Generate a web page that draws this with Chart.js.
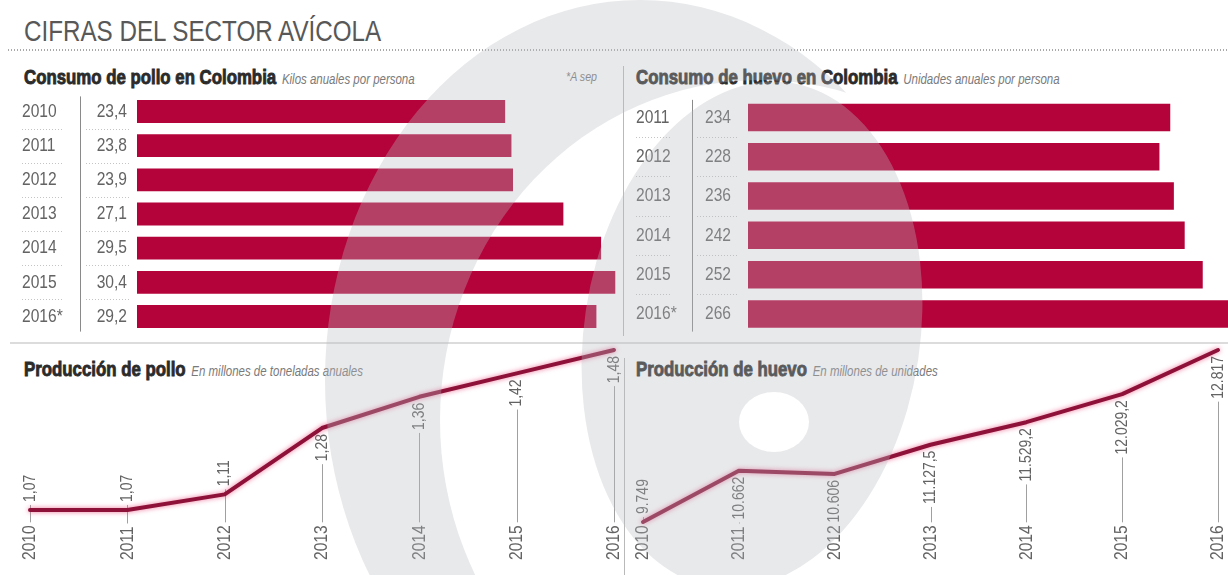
<!DOCTYPE html>
<html lang="es">
<head>
<meta charset="utf-8">
<title>Cifras del sector avícola</title>
<script src="https://cdn.jsdelivr.net/npm/chart.js@4.4.1/dist/chart.umd.min.js"></script>
<style>
html, body { margin: 0; padding: 0; background: #fff; }
#page { position: relative; width: 1228px; height: 575px; overflow: hidden;
        font-family: "Liberation Sans", Arial, sans-serif; color: #555; }
.abs { position: absolute; }
/* condensed look: Liberation Sans squeezed horizontally */
.narrow { transform: scaleX(0.82); transform-origin: 0 0; white-space: nowrap; }
#titulo { left: 24px; top: 15px; font-size: 29.5px; line-height: 32px; color: #585858; }
#puntos { left: 8px; top: 49px; width: 1220px; height: 2px;
          background-image: linear-gradient(to right, #a9a9a9 50%, transparent 50%); background-size: 3px 2px; }
.cab { line-height: 20px; }
.cab b { font-size: 20.5px; color: #2b2b2b; -webkit-text-stroke: 0.9px #2b2b2b; }
.cab i { font-size: 14px; color: #7a7a7a; margin-left: 7px; }
#nota { left: 566px; top: 67px; font-size: 13px; line-height: 20px; font-style: italic; color: #777; }
.sep-v { width: 1px; background: #b9b9b9; }
#sep-h { left: 10px; top: 342px; width: 1218px; height: 2px; background: #dcdcdc; }
canvas { display: block; }
#marca { left: 0; top: 0; pointer-events: none; }
</style>
</head>
<body>
<div id="page">
  <div id="titulo" class="abs narrow">CIFRAS DEL SECTOR AVÍCOLA</div>
  <div id="puntos" class="abs"></div>

  <div class="abs cab narrow" style="left:24px; top:67px;"><b>Consumo de pollo en Colombia</b><i>Kilos anuales por persona</i></div>
  <div id="nota" class="abs narrow">*A sep</div>
  <div class="abs cab narrow" style="left:636px; top:67px;"><b>Consumo de huevo en Colombia</b><i>Unidades anuales por persona</i></div>
  <div class="abs sep-v" style="left:623px; top:66px; height:270px;"></div>

  <div id="sep-h" class="abs"></div>
  <div class="abs cab narrow" style="left:24px; top:359px;"><b>Producción de pollo</b><i>En millones de toneladas anuales</i></div>
  <div class="abs cab narrow" style="left:636px; top:359px;"><b>Producción de huevo</b><i>En millones de unidades</i></div>
  <div class="abs sep-v" style="left:624px; top:358px; height:217px;"></div>

  <div class="abs" style="left:0; top:90px;"><canvas id="consumo-pollo" width="622" height="250"></canvas></div>
  <div class="abs" style="left:622px; top:90px;"><canvas id="consumo-huevo" width="606" height="250"></canvas></div>
  <div class="abs" style="left:0; top:343px;"><canvas id="produccion-pollo" width="622" height="232"></canvas></div>
  <div class="abs" style="left:622px; top:343px;"><canvas id="produccion-huevo" width="606" height="232"></canvas></div>

  <canvas id="marca" class="abs" width="1228" height="575"></canvas>
</div>

<script>
// Datos
const POLLO_YEARS = ['2010', '2011', '2012', '2013', '2014', '2015', '2016*'];
const POLLO_CONSUMO = [23.4, 23.8, 23.9, 27.1, 29.5, 30.4, 29.2];

const HUEVO_YEARS = ['2011', '2012', '2013', '2014', '2015', '2016*'];
const HUEVO_CONSUMO = [234, 228, 236, 242, 252, 266];

const PROD_YEARS = ['2010', '2011', '2012', '2013', '2014', '2015', '2016'];
const POLLO_PRODUCCION = [1.07, 1.07, 1.11, 1.28, 1.36, 1.42, 1.48];
const HUEVO_PRODUCCION = [9749, 10662, 10606, 11127.5, 11529.2, 12029.2, 12817];

const BAR_RED = '#b4033a';
const LINE_RED = '#8e1139';
const TEXT_GRAY = '#636363';
const FONT = '"Liberation Sans", Arial, sans-serif';
const SQUEEZE = 0.82;

// 1234.5 -> "1.234,5"
function fmt_es(v, dec){
    let parts = v.toFixed(dec).split('.');
    let ent = parts[0].replace(/\B(?=(\d{3})+(?!\d))/g, '.');
    return parts.length > 1 ? ent + ',' + parts[1] : ent;
}

// text squeezed horizontally, optionally turned to read bottom-up
function narrow_text(ctx, text, x, y, align, up){
    ctx.save();
    ctx.translate(x, y);
    if (up) ctx.rotate(-Math.PI / 2);
    ctx.scale(SQUEEZE, 1);
    ctx.textAlign = align;
    ctx.fillText(text, 0, 0);
    ctx.restore();
}

function narrow_width(ctx, text){
    return ctx.measureText(text).width * SQUEEZE;
}

// year / value columns to the left of the bars
function make_row_labels(cfg){
    return {
        id: 'rowLabels',
        afterDraw(chart){
            const ctx = chart.ctx;
            const y = chart.scales.y;
            const values = chart.data.datasets[0].data;
            const n = values.length;
            ctx.save();
            ctx.font = '19px ' + FONT;
            ctx.fillStyle = TEXT_GRAY;
            ctx.textBaseline = 'middle';
            for (let i = 0; i < n; i++){
                let py = y.getPixelForValue(i);
                narrow_text(ctx, chart.data.labels[i], cfg.yearX, py, 'left');
                narrow_text(ctx, cfg.format(values[i]), cfg.valueX, py, cfg.valueAlign);
                if (i < n - 1){
                    let sy = Math.round((py + y.getPixelForValue(i + 1)) / 2) + 0.5;
                    ctx.save();
                    ctx.strokeStyle = '#c4c4c4';
                    ctx.lineWidth = 1;
                    ctx.setLineDash([1, 2]);
                    ctx.beginPath();
                    ctx.moveTo(cfg.sep1[0], sy); ctx.lineTo(cfg.sep1[1], sy);
                    ctx.moveTo(cfg.sep2[0], sy); ctx.lineTo(cfg.sep2[1], sy);
                    ctx.stroke();
                    ctx.restore();
                }
            }
            ctx.strokeStyle = '#8a8a8a';
            ctx.lineWidth = 1;
            ctx.beginPath();
            ctx.moveTo(cfg.lineX + 0.5, chart.chartArea.top + 2);
            ctx.lineTo(cfg.lineX + 0.5, chart.chartArea.bottom - 2);
            ctx.stroke();
            ctx.restore();
        }
    };
}

// rotated year at the foot, rotated value next to each point, thin leader between them
function make_point_labels(format, sides){
    return {
        id: 'pointLabels',
        beforeDatasetsDraw(chart){
            const ctx = chart.ctx;
            const meta = chart.getDatasetMeta(0);
            const values = chart.data.datasets[0].data;
            const year_bottom = chart.chartArea.bottom + 20;
            ctx.save();
            ctx.fillStyle = TEXT_GRAY;
            ctx.textBaseline = 'middle';
            meta.data.forEach((pt, i) => {
                ctx.font = '19px ' + FONT;
                let year = chart.data.labels[i];
                let yw = narrow_width(ctx, year);
                narrow_text(ctx, year, pt.x, year_bottom, 'left', true);

                ctx.font = '17px ' + FONT;
                let txt = format(values[i]);
                let w = narrow_width(ctx, txt);
                let lab_bottom = sides[i] == 'up' ? pt.y - 8 : pt.y + 6 + w;
                narrow_text(ctx, txt, pt.x, lab_bottom, 'left', true);

                let top = lab_bottom + 3;
                let bottom = year_bottom - yw - 3;
                if (bottom - top > 1){
                    ctx.save();
                    ctx.strokeStyle = '#a0a0a0';
                    ctx.lineWidth = 1;
                    ctx.beginPath();
                    ctx.moveTo(Math.round(pt.x) + 0.5, top);
                    ctx.lineTo(Math.round(pt.x) + 0.5, bottom);
                    ctx.stroke();
                    ctx.restore();
                }
            });
            ctx.restore();
        }
    };
}

// pink halo under the line
const line_glow = {
    id: 'lineGlow',
    beforeDatasetDraw(chart){
        chart.ctx.save();
        chart.ctx.shadowColor = 'rgba(232, 70, 120, 0.75)';
        chart.ctx.shadowBlur = 5;
    },
    afterDatasetDraw(chart){
        chart.ctx.restore();
    }
};

function bar_chart(id, labels, values, max, thickness, padding, labels_cfg){
    new Chart(document.getElementById(id), {
        type: 'bar',
        data: {
            labels: labels,
            datasets: [{
                data: values,
                backgroundColor: BAR_RED,
                borderWidth: 0,
                barPercentage: thickness,
                categoryPercentage: 1
            }]
        },
        options: {
            indexAxis: 'y',
            responsive: false,
            animation: false,
            layout: { padding: padding },
            scales: {
                x: { display: false, min: 0, max: max },
                y: { display: false }
            },
            plugins: { legend: { display: false }, tooltip: { enabled: false } }
        },
        plugins: [make_row_labels(labels_cfg)]
    });
}

function line_chart(id, values, min, max, padding, format, sides){
    new Chart(document.getElementById(id), {
        type: 'line',
        data: {
            labels: PROD_YEARS,
            datasets: [{
                data: values,
                borderColor: LINE_RED,
                borderWidth: 4,
                pointRadius: 0,
                tension: 0,
                clip: false,
                borderJoinStyle: 'round',
                borderCapStyle: 'round'
            }]
        },
        options: {
            responsive: false,
            animation: false,
            layout: { padding: padding },
            scales: {
                x: { display: false, offset: false },
                y: { display: false, min: min, max: max }
            },
            plugins: { legend: { display: false }, tooltip: { enabled: false } }
        },
        plugins: [make_point_labels(format, sides), line_glow]
    });
}

bar_chart('consumo-pollo', POLLO_YEARS, POLLO_CONSUMO, 30.7, 0.67,
    { left: 137, right: 2, top: 4.4, bottom: 6.4 },
    { yearX: 22, valueX: 127, valueAlign: 'right', lineX: 80, sep1: [22, 64], sep2: [86, 129],
      format: v => fmt_es(v, 1) });

bar_chart('consumo-huevo', HUEVO_YEARS, HUEVO_CONSUMO, 266, 0.7,
    { left: 126, right: 0, top: 7.85, bottom: 6.4 },
    { yearX: 14, valueX: 83, valueAlign: 'left', lineX: 70, sep1: [14, 50], sep2: [75, 115],
      format: v => fmt_es(v, 0) });

line_chart('produccion-pollo', POLLO_PRODUCCION, 0.993, 1.48,
    { left: 30, right: 8, top: 7, bottom: 35 },
    v => fmt_es(v, 2),
    ['up', 'up', 'up', 'down', 'down', 'down', 'down']);

line_chart('produccion-huevo', HUEVO_PRODUCCION, 9428, 12817,
    { left: 21, right: 10, top: 7, bottom: 35 },
    v => fmt_es(v, Number.isInteger(v) ? 0 : 1),
    ['up', 'down', 'down', 'down', 'down', 'down', 'down']);

// faint logo watermark laid over the page
function draw_watermark(){
    const off = document.createElement('canvas');
    off.width = 1228; off.height = 575;
    const o = off.getContext('2d');
    o.fillStyle = 'rgb(186, 188, 194)';
    o.beginPath(); o.ellipse(640, 380, 315, 380, 0, 0, 2 * Math.PI); o.fill();
    o.globalCompositeOperation = 'destination-out';
    o.beginPath(); o.ellipse(760, 420, 320, 340, 0, 0, 2 * Math.PI); o.fill();
    o.globalCompositeOperation = 'source-over';
    o.beginPath(); o.ellipse(752, 335, 168, 255, 0.15, 0, 2 * Math.PI); o.fill();
    o.globalCompositeOperation = 'destination-out';
    o.beginPath(); o.ellipse(774, 422, 35, 30, 0, 0, 2 * Math.PI); o.fill();

    const ctx = document.getElementById('marca').getContext('2d');
    ctx.globalAlpha = 0.33;
    ctx.drawImage(off, 0, 0);
}
draw_watermark();
</script>
</body>
</html>
